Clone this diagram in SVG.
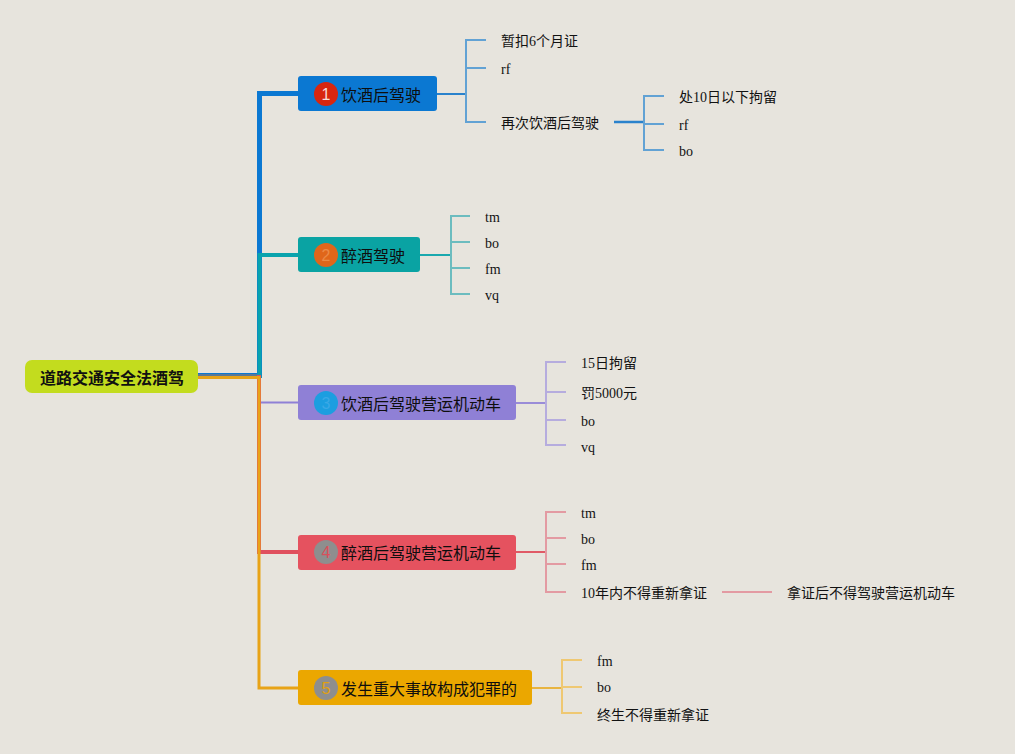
<svg xmlns="http://www.w3.org/2000/svg" width="1015" height="754" viewBox="0 0 1015 754">
<style>
.bg{fill:#e7e4dd}
.node-text{font-family:"Noto Sans CJK SC","Liberation Sans",sans-serif;font-size:16px;fill:#0e0e0e;dominant-baseline:central}
.root-text{font-family:"Noto Sans CJK SC","Liberation Sans",sans-serif;font-size:16px;font-weight:bold;fill:#111;dominant-baseline:central;text-anchor:middle}
.leaf{font-family:"Liberation Serif","Noto Sans CJK SC",serif;font-size:14px;fill:#121212;dominant-baseline:central}
.badge-num{font-family:"Liberation Sans",sans-serif;font-size:16px;text-anchor:middle;dominant-baseline:central}
.c{fill:none;stroke-linejoin:miter}
</style>
<rect class="bg" x="0" y="0" width="1015" height="754"/>

<g id="connectors">
  <!-- main branches -->
  <path class="c" d="M198,375.5 H259.5 V93.5 H298" stroke="#0b78d2" stroke-width="5"/>
  <path class="c" d="M198,376 H259.5 V255 H298" stroke="#0aa3ad" stroke-width="4"/>
  <path class="c" d="M198,376.5 H259 V402.5 H298" stroke="#8f80d6" stroke-width="2"/>
  <path class="c" d="M198,377 H259 V552 H298" stroke="#e0505e" stroke-width="4"/>
  <path class="c" d="M198,377.5 H259 V688 H298" stroke="#e8a317" stroke-width="3"/>
  <path class="c" d="M198,375 H257" stroke="#5b7896" stroke-width="2"/>

  <!-- node 1 children -->
  <path class="c" d="M437,94 H466" stroke="#2a82cc" stroke-width="2"/>
  <path class="c" d="M486,40 H466 V122 H486 M466,68 H486" stroke="#62a2d4" stroke-width="2"/>
  <path class="c" d="M614,122 H644" stroke="#2a82cc" stroke-width="2.5"/>
  <path class="c" d="M664,96 H644 V150 H664 M644,124 H664" stroke="#62a2d4" stroke-width="2"/>

  <!-- node 2 children -->
  <path class="c" d="M420,255 H451" stroke="#1aa8ae" stroke-width="2"/>
  <path class="c" d="M470,216 H451 V294 H470 M451,242 H470 M451,268 H470" stroke="#6cbcbf" stroke-width="2"/>

  <!-- node 3 children -->
  <path class="c" d="M516,403 H546" stroke="#9a8cd8" stroke-width="2"/>
  <path class="c" d="M566,362 H546 V445 H566 M546,392 H566 M546,420 H566" stroke="#b6acde" stroke-width="2"/>

  <!-- node 4 children -->
  <path class="c" d="M516,552 H546" stroke="#e05a66" stroke-width="2"/>
  <path class="c" d="M566,512 H546 V592 H566 M546,538 H566 M546,564 H566" stroke="#e39aa2" stroke-width="2"/>
  <path class="c" d="M722,592 H772" stroke="#e39aa2" stroke-width="2"/>

  <!-- node 5 children -->
  <path class="c" d="M532,688 H562" stroke="#e8b440" stroke-width="2"/>
  <path class="c" d="M582,660 H562 V713 H582 M562,687 H582" stroke="#efc872" stroke-width="2"/>
</g>

<g id="root">
  <rect x="25" y="360" width="173" height="33" rx="7" fill="#c3dc1e"/>
  <text class="root-text" x="112" y="377">道路交通安全法酒驾</text>
</g>

<g id="node1">
  <rect x="298" y="76" width="139" height="35" rx="3" fill="#0b78d2"/>
  <circle cx="326" cy="94" r="12" fill="#d8260f"/>
  <text class="badge-num" x="326" y="94" fill="#f6dcd6">1</text>
  <text class="node-text" x="341" y="94">饮酒后驾驶</text>
</g>
<g id="node2">
  <rect x="298" y="237" width="122" height="35" rx="3" fill="#0aa3a3"/>
  <circle cx="326" cy="255" r="12" fill="#e0661a"/>
  <text class="badge-num" x="326" y="255" fill="#eb8a46">2</text>
  <text class="node-text" x="341" y="255">醉酒驾驶</text>
</g>
<g id="node3">
  <rect x="298" y="385" width="218" height="35" rx="3" fill="#8f80d6"/>
  <circle cx="326" cy="403" r="12" fill="#1c9ee0"/>
  <text class="badge-num" x="326" y="403" fill="#3aa8e6">3</text>
  <text class="node-text" x="341" y="403">饮酒后驾驶营运机动车</text>
</g>
<g id="node4">
  <rect x="298" y="535" width="218" height="35" rx="3" fill="#e5525f"/>
  <circle cx="326" cy="552" r="12" fill="#8e8e8e"/>
  <text class="badge-num" x="326" y="552" fill="#d9505a">4</text>
  <text class="node-text" x="341" y="552">醉酒后驾驶营运机动车</text>
</g>
<g id="node5">
  <rect x="298" y="670" width="234" height="35" rx="3" fill="#eba700"/>
  <circle cx="326" cy="688" r="12" fill="#8e8e8e"/>
  <text class="badge-num" x="326" y="688" fill="#e0a010">5</text>
  <text class="node-text" x="341" y="688">发生重大事故构成犯罪的</text>
</g>

<g id="leaves1">
  <text class="leaf" x="501" y="41">暂扣6个月证</text>
  <text class="leaf" x="501" y="69">rf</text>
  <text class="leaf" x="501" y="123">再次饮酒后驾驶</text>
  <text class="leaf" x="679" y="97">处10日以下拘留</text>
  <text class="leaf" x="679" y="125">rf</text>
  <text class="leaf" x="679" y="151">bo</text>
</g>
<g id="leaves2">
  <text class="leaf" x="485" y="217">tm</text>
  <text class="leaf" x="485" y="243">bo</text>
  <text class="leaf" x="485" y="269">fm</text>
  <text class="leaf" x="485" y="295">vq</text>
</g>
<g id="leaves3">
  <text class="leaf" x="581" y="363">15日拘留</text>
  <text class="leaf" x="581" y="393">罚5000元</text>
  <text class="leaf" x="581" y="421">bo</text>
  <text class="leaf" x="581" y="447">vq</text>
</g>
<g id="leaves4">
  <text class="leaf" x="581" y="513">tm</text>
  <text class="leaf" x="581" y="539">bo</text>
  <text class="leaf" x="581" y="565">fm</text>
  <text class="leaf" x="581" y="593">10年内不得重新拿证</text>
  <text class="leaf" x="787" y="593">拿证后不得驾驶营运机动车</text>
</g>
<g id="leaves5">
  <text class="leaf" x="597" y="661">fm</text>
  <text class="leaf" x="597" y="687">bo</text>
  <text class="leaf" x="597" y="715">终生不得重新拿证</text>
</g>
</svg>
